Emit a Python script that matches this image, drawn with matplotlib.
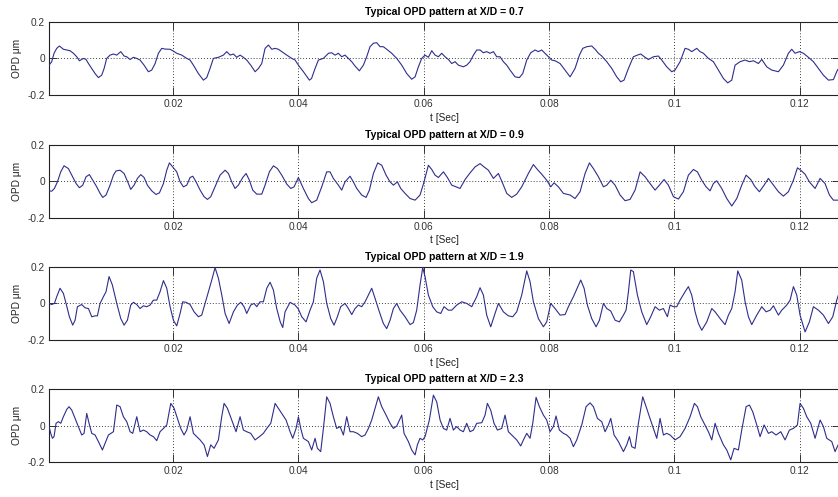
import numpy as np
import matplotlib
matplotlib.use("Agg")
import matplotlib.pyplot as plt

plt.rcParams['font.family'] = ['Liberation Sans', 'DejaVu Sans']

# X/D stations shown top to bottom
xd_values = [0.7, 0.9, 1.9, 2.3]

# time samples in milliseconds, OPD in micrometres
t_07 = [0.21, 0.63, 1.00, 1.43, 1.86, 2.49, 3.03, 3.56, 4.09, 4.62, 5.05, 5.69, 6.11, 6.49, 7.02,
        7.55, 8.08, 8.61, 8.99, 9.41, 9.94, 10.48, 11.01, 11.65, 12.18, 12.60, 13.13, 13.67, 14.20, 14.73,
        15.37, 16.06, 16.59, 17.13, 17.66, 18.19, 18.72, 19.52, 20.05, 20.58, 21.38, 22.18, 22.71, 23.24, 24.04,
        24.84, 25.37, 25.90, 26.43, 27.23, 28.03, 28.56, 29.10, 29.63, 30.16, 30.69, 31.22, 31.75, 32.39, 33.09,
        33.62, 34.15, 34.68, 35.21, 35.75, 36.28, 36.81, 37.34, 38.14, 38.94, 39.47,
        40.0, 40.8, 41.75, 42.1, 42.66, 43.19, 43.99, 44.8, 45.3, 45.85, 46.38, 46.91, 47.44, 47.98, 48.51,
        49.04, 49.73, 50.37, 50.9, 51.43, 51.97, 52.5, 53.03, 53.56, 54.09, 54.89, 55.69, 56.49, 57.29, 58.08,
        58.62, 59.15, 59.68, 60.21, 60.74, 61.28, 61.81, 62.34, 62.87, 63.4, 63.94, 64.47, 65.0, 65.53, 66.33,
        66.86, 67.39, 67.93, 68.46, 68.99, 69.52, 70.05, 70.59, 71.12, 71.65, 72.18, 72.71, 73.25, 73.78, 74.58,
        75.27, 75.8, 76.44, 77.08, 77.77, 78.3, 78.83, 79.36, 79.9, 80.43, 80.96, 81.76, 82.56,
        83.36, 84.15, 84.85, 85.38, 86.02, 86.81, 87.35, 87.88, 88.41, 89.21, 90.01, 90.8, 91.44, 91.97, 92.67,
        93.46, 94.1, 94.63, 95.33, 95.86, 96.66, 97.45, 97.99, 98.78, 99.58, 100.11, 100.91, 101.71, 102.24, 102.77,
        103.57, 104.1, 104.64, 105.43, 106.23, 107.03, 107.83, 108.52, 109.16, 109.69, 110.49, 111.29, 111.98,
        112.62, 113.41, 113.95, 114.74, 115.54, 116.61, 117.4, 118.2, 118.73, 119.27, 119.96, 120.6, 121.39,
        122.19, 122.99, 123.79, 124.59, 125.38, 126.02, 126.5]
opd_07 = [-0.037, -0.018, 0.028, 0.055, 0.068, 0.050, 0.046, 0.042, 0.028, 0.009, -0.013, 0.0, -0.006, -0.028, -0.055,
          -0.083, -0.105, -0.092, -0.055, 0.0, 0.018, 0.024, 0.018, 0.037, 0.013, 0.009, -0.006, 0.006, 0.0, -0.009,
          -0.037, -0.073, -0.064, -0.028, 0.028, 0.055, 0.051, 0.050, 0.040, 0.028, 0.018, 0.0, -0.009, -0.037, -0.083,
          -0.119, -0.105, -0.055, 0.0, 0.006, 0.018, 0.037, 0.018, 0.024, 0.006, 0.018, 0.006, -0.009, -0.037, -0.073,
          -0.055, -0.028, 0.055, 0.073, 0.050, 0.055, 0.050, 0.037, 0.018, 0.0, -0.009,
          -0.037, -0.073, -0.119, -0.110, -0.055, -0.009, 0.0, 0.028, 0.031, 0.018, 0.028, 0.009, 0.018, 0.0, -0.018,
          -0.042, -0.068, -0.037, 0.009, 0.064, 0.083, 0.086, 0.064, 0.064, 0.050, 0.028, 0.0, -0.037, -0.083, -0.114,
          -0.101, -0.046, 0.0, 0.018, 0.006, 0.042, 0.018, 0.009, 0.028, 0.009, -0.006, -0.028, -0.018, -0.037, -0.046,
          -0.037, -0.018, 0.018, 0.046, 0.046, 0.031, 0.037, 0.028, 0.037, 0.009, 0.009, -0.018, -0.037, -0.064, -0.101,
          -0.105, -0.083, -0.009, 0.031, 0.046, 0.037, 0.046, 0.028, 0.009, -0.009, -0.013, -0.028, -0.064,
          -0.101, -0.055, 0.018, 0.055, 0.064, 0.068, 0.050, 0.028, 0.013, -0.018, -0.055, -0.101, -0.128, -0.119, -0.055,
          0.009, 0.018, 0.024, 0.006, -0.006, 0.009, 0.013, -0.009, -0.046, -0.073, -0.064, -0.018, 0.055, 0.050, 0.037,
          0.055, 0.037, 0.028, 0.0, -0.018, -0.064, -0.110, -0.134, -0.119, -0.037, -0.018, -0.009, -0.018,
          -0.013, -0.028, -0.006, -0.046, -0.064, -0.073, -0.037, 0.028, 0.050, 0.028, 0.037, 0.028, 0.006,
          -0.018, -0.055, -0.092, -0.119, -0.116, -0.064, -0.045]

t_09 = [0.21, 0.63, 1.06, 1.54, 2.07, 2.60, 3.29, 3.83, 4.52, 5.05, 5.58, 6.11, 6.64, 7.18, 7.81,
        8.35, 8.77, 9.30, 9.94, 10.48, 10.90, 11.54, 12.18, 12.87, 13.24, 13.77, 14.31, 14.84, 15.37, 15.90,
        16.59, 17.28, 17.82, 18.46, 18.99, 19.41, 19.94, 20.58, 21.12, 21.65, 22.18, 22.71, 23.14, 23.67, 24.31,
        24.95, 25.48, 26.01, 26.70, 27.50, 28.30, 28.83, 29.36, 29.89, 30.42, 31.12, 31.65, 32.18, 32.71, 33.35,
        34.15, 34.68, 35.37, 36.01, 36.65, 37.34, 38.14, 38.78, 39.31,
        40.0, 40.79, 41.59, 42.12, 42.92, 43.72, 44.52, 45.05, 45.58, 46.38, 46.91, 47.44, 48.24, 48.77, 49.31,
        50.10, 50.80, 51.33, 51.97, 52.66, 53.30, 53.99, 54.63, 55.16, 55.80, 56.33, 57.02, 57.82, 58.62, 59.41,
        60.05, 60.74, 61.28, 61.81, 62.34, 63.14, 63.78, 64.47, 65.16, 65.80, 66.6, 67.39, 68.19, 68.99, 69.63,
        70.32, 71.12, 71.92, 72.61, 73.25, 74.04, 74.84, 75.64, 76.70, 77.5, 78.14, 78.83, 79.63, 80.27, 80.80,
        81.49, 82.29,
        83.36, 84.15, 84.95, 85.75, 86.44, 87.08, 87.88, 88.68, 89.21, 89.85, 90.54, 91.34, 92.13, 92.93, 93.73,
        94.53, 95.33, 96.12, 96.92, 97.61, 98.36, 99.05, 99.85, 100.65, 101.44, 102.24, 103.04, 103.68, 104.37, 105.06,
        105.70, 106.23, 106.76, 107.56, 108.36, 109.16, 109.96, 110.75, 111.45, 112.19, 112.88, 113.57, 114.32,
        115.01, 115.81, 116.61, 117.40, 118.20, 119.0, 119.64, 120.17, 120.86, 121.55, 122.46, 123.26, 124.05,
        124.75, 125.38, 126.13, 126.5]
opd_09 = [-0.053, -0.055, -0.040, -0.004, 0.051, 0.084, 0.069, 0.033, -0.013, -0.036, -0.022, 0.024, 0.036, 0.005, -0.031,
          -0.067, -0.089, -0.076, -0.022, 0.033, 0.056, 0.060, 0.042, -0.013, -0.045, -0.022, 0.015, 0.036, 0.020, -0.022,
          -0.053, -0.073, -0.064, -0.013, 0.060, 0.100, 0.078, 0.051, -0.004, -0.031, -0.022, 0.020, 0.027, -0.004, -0.049,
          -0.085, -0.100, -0.085, -0.031, 0.033, 0.060, 0.042, -0.004, -0.040, -0.022, 0.020, 0.042, 0.005, -0.049, -0.071,
          -0.071, -0.022, 0.051, 0.084, 0.069, 0.033, -0.016, -0.040, -0.031,
          0.020, -0.040, -0.095, -0.118, -0.104, -0.031, 0.051, 0.051, 0.015, -0.022, -0.049, -0.004, 0.027, -0.004, -0.040,
          -0.076, -0.089, -0.049, 0.042, 0.100, 0.087, 0.033, -0.004, -0.022, -0.004, -0.040, -0.067, -0.095, -0.104, -0.076,
          -0.004, 0.087, 0.064, 0.033, 0.020, 0.051, 0.020, -0.022, -0.031, -0.040, 0.009, 0.045, 0.078, 0.096, 0.078,
          0.060, 0.015, 0.042, -0.013, -0.067, -0.089, -0.071, -0.031, 0.042, 0.091, 0.064, 0.038, 0.005, -0.031, -0.009,
          -0.031, -0.067,
          -0.076, -0.095, -0.058, 0.042, 0.100, 0.069, 0.024, -0.031, -0.022, 0.005, -0.022, -0.076, -0.107, -0.100, -0.049,
          0.051, 0.024, -0.013, -0.049, -0.022, 0.009, -0.022, -0.085, -0.098, -0.058, 0.033, 0.064, 0.051, 0.005, -0.031,
          -0.053, -0.013, 0.002, -0.040, -0.095, -0.136, -0.095, -0.022, 0.033, 0.009, -0.031, -0.058, -0.022,
          0.015, -0.022, -0.058, -0.082, -0.058, 0.005, 0.073, 0.060, 0.038, -0.004, -0.040, 0.015, -0.013,
          -0.076, -0.104, -0.104, -0.095]

t_19 = [0.21, 0.63, 1.06, 1.43, 1.96, 2.49, 2.92, 3.45, 3.98, 4.36, 4.73, 5.42, 5.95, 6.49, 7.02,
        7.55, 7.92, 8.35, 8.88, 9.30, 9.78, 10.31, 11.01, 11.65, 12.18, 12.71, 13.24, 13.67, 14.20, 14.73,
        15.26, 15.79, 16.33, 16.86, 17.39, 17.92, 18.46, 18.99, 19.52, 20.05, 20.58, 21.12, 21.54, 22.07, 22.71,
        23.35, 24.04, 24.57, 25.11, 25.64, 26.17, 26.70, 27.23, 27.77, 28.30, 28.94, 29.63, 30.27, 30.80, 31.33,
        31.75, 32.39, 32.93, 33.35, 33.88, 34.41, 34.95, 35.48, 36.01, 36.54, 37.1, 37.5,
        37.87, 38.67, 39.46, 40.0, 40.53, 41.22, 41.86, 42.39, 42.92, 43.45, 43.99, 44.52, 45.16, 45.69, 46.22,
        46.75, 47.44, 47.98, 48.51, 49.04, 49.57, 50.10, 50.64, 51.17, 51.70, 52.23, 52.92, 53.56, 54.09, 54.63,
        55.16, 55.69, 56.22, 57.02, 57.82, 58.35, 58.88, 59.41, 59.84, 60.21, 60.74, 61.44, 62.07, 62.71, 63.24,
        63.94, 64.47, 65.27, 66.06, 66.86, 67.66, 68.46, 68.99, 69.52, 70.05, 70.69, 71.38, 71.92, 72.71, 73.51,
        74.20, 74.84, 75.64, 76.44, 76.97, 77.50, 78.30, 79.10, 79.63, 80.27, 80.96, 81.76,
        82.56, 83.09, 83.89, 85.06, 85.59, 86.12, 86.81, 87.51, 88.04, 88.68, 89.21, 89.85, 90.54, 91.23, 91.87,
        92.29, 92.67, 93.04, 93.46, 94.10, 94.79, 95.59, 96.23, 96.92, 97.61, 98.25, 98.89, 99.32, 99.85, 100.38,
        100.91, 101.71, 102.24, 102.77, 103.31, 103.84, 104.37, 105.17, 105.97, 106.50, 107.30, 108.09, 108.63,
        109.16, 109.69, 110.12, 110.75, 111.29, 111.82, 112.35, 113.15, 113.95, 114.64, 115.28, 115.81, 116.61,
        117.14, 117.94, 118.47, 119.0, 119.53, 120.06, 120.86, 121.55, 122.19, 122.99, 123.79, 124.59, 125.28,
        125.92, 126.18, 126.5]
opd_19 = [0.0, -0.006, 0.0, 0.037, 0.083, 0.055, 0.0, -0.073, -0.119, -0.092, -0.018, -0.006, -0.024, -0.028, -0.073,
          -0.068, -0.068, 0.0, 0.037, 0.064, 0.147, 0.101, 0.0, -0.083, -0.119, -0.092, -0.009, 0.006, -0.006, -0.028,
          -0.013, -0.018, -0.009, 0.018, 0.018, 0.064, 0.125, 0.083, -0.018, -0.092, -0.123, -0.055, 0.009, 0.006, -0.006,
          -0.046, -0.073, -0.064, 0.0, 0.064, 0.128, 0.196, 0.138, 0.046, -0.055, -0.110, -0.046, -0.009, 0.006, -0.018,
          -0.055, -0.009, 0.0, -0.018, 0.009, 0.009, 0.083, 0.116, 0.073, -0.028, -0.101, -0.132,
          -0.046, 0.006, -0.009, -0.031, -0.073, -0.101, -0.037, 0.009, 0.138, 0.183, 0.119, 0.0, -0.083, -0.119, -0.073,
          -0.018, 0.0, -0.028, -0.061, -0.028, -0.009, -0.018, 0.009, 0.046, 0.083, 0.028, -0.046, -0.110, -0.138, -0.092,
          -0.028, 0.0, -0.037, -0.073, -0.116, -0.105, -0.037, 0.101, 0.196, 0.147, 0.046, -0.018, -0.046, -0.055, -0.018,
          -0.037, -0.037, -0.009, 0.009, 0.0, -0.018, 0.037, 0.086, 0.046, -0.064, -0.128, -0.055, 0.0, -0.046, -0.068,
          -0.073, -0.046, 0.046, 0.178, 0.119, 0.009, -0.083, -0.128, -0.101, 0.0, -0.028, -0.064,
          -0.061, -0.018, 0.037, 0.128, 0.083, -0.009, -0.083, -0.128, -0.092, 0.0, -0.028, -0.042, -0.092, -0.101, -0.064,
          -0.037, 0.064, 0.183, 0.174, 0.046, -0.046, -0.116, -0.073, -0.018, -0.037, -0.028, -0.073, -0.009, -0.018, -0.018,
          0.018, 0.064, 0.092, 0.046, -0.046, -0.110, -0.147, -0.101, -0.028, -0.046, -0.083, -0.116, -0.064,
          -0.028, 0.064, 0.178, 0.128, 0.009, -0.073, -0.116, -0.064, -0.018, -0.046, -0.037, -0.013, -0.064,
          -0.037, -0.009, 0.018, 0.092, 0.046, -0.064, -0.156, -0.101, -0.018, -0.037, -0.064, -0.110, -0.073,
          0.018, 0.046, 0.060]

t_23 = [0.21, 0.47, 0.74, 1.00, 1.32, 1.70, 2.07, 2.49, 3.03, 3.40, 3.83, 4.36, 4.89, 5.42, 5.79,
        6.22, 6.59, 7.02, 7.55, 8.08, 8.72, 9.15, 9.68, 10.48, 11.01, 11.54, 12.07, 12.60, 13.14, 13.56,
        14.20, 14.73, 15.26, 15.79, 16.33, 16.86, 17.39, 17.92, 18.46, 18.99, 19.63, 20.16, 20.69, 21.22, 21.75,
        22.18, 22.71, 23.24, 23.78, 24.31, 24.95, 25.48, 26.01, 26.54, 27.23, 27.76, 28.14, 28.67, 29.36, 30.05,
        30.69, 31.22, 31.75, 32.39, 33.08, 33.78, 34.41, 34.95, 35.59, 36.28, 36.81, 37.34, 38.03, 38.67, 39.10,
        39.63, 40.0,
        40.37, 40.79, 41.59, 42.12, 42.66, 43.03, 43.56, 43.99, 44.52, 45.05, 45.58, 46.11, 46.65, 47.18, 47.71,
        48.24, 48.77, 49.41, 50.10, 50.64, 51.17, 51.70, 52.76, 53.30, 53.99, 54.63, 55.16, 55.69, 56.49, 56.86,
        57.55, 58.08, 58.62, 58.99, 59.41, 59.84, 60.21, 60.90, 61.54, 62.07, 62.61, 63.14, 63.67, 64.20, 64.73,
        65.27, 65.80, 66.33, 66.86, 67.39, 67.93, 68.46, 69.26, 69.79, 70.16, 70.69, 71.22, 71.76, 72.45, 72.98,
        73.51, 74.31, 74.84, 75.48, 75.91, 76.44, 76.97, 77.40, 77.93, 78.46, 79.10, 79.63, 80.16, 80.69, 81.12,
        81.65, 82.29, 82.82,
        83.36, 83.89, 84.42, 85.22, 85.91, 86.55, 87.08, 87.72, 88.41, 88.94, 89.47, 89.85, 90.38, 91.07, 91.87,
        92.40, 92.83, 93.20, 93.73, 94.26, 94.95, 95.49, 96.02, 96.66, 97.19, 97.72, 98.25, 98.78, 99.32, 100.11,
        100.91, 101.71, 102.51, 103.20, 103.68, 104.21, 104.74, 105.43, 105.97, 106.50, 107.03, 107.83, 108.36,
        109.0, 109.53, 110.22, 110.75, 111.45, 111.98, 112.51, 113.15, 113.68, 114.32, 115.01, 115.54, 116.23,
        116.98, 117.67, 118.36, 119.0, 119.64, 120.06, 120.60, 121.13, 121.77, 122.46, 123.26, 123.79, 124.32,
        125.12, 125.65, 126.13, 126.5]
opd_23 = [-0.005, -0.042, -0.069, -0.060, 0.013, 0.022, 0.013, 0.049, 0.089, 0.104, 0.085, 0.040, -0.005, -0.051, -0.042,
          0.067, 0.013, -0.042, -0.051, -0.087, -0.133, -0.096, -0.051, -0.033, 0.113, 0.104, 0.049, 0.022, -0.033, -0.042,
          0.049, -0.033, -0.024, -0.033, -0.051, -0.060, -0.082, -0.033, -0.015, 0.004, 0.122, 0.095, 0.040, -0.015, -0.051,
          -0.024, 0.049, -0.042, -0.060, -0.078, -0.105, -0.169, -0.105, -0.124, -0.078, 0.049, 0.122, 0.095, 0.031, -0.033,
          0.049, -0.024, -0.033, -0.042, -0.078, -0.060, -0.042, -0.015, 0.013, 0.122, 0.095, 0.067, 0.031, -0.033, -0.069,
          -0.015, 0.049,
          -0.015, -0.069, -0.087, -0.133, -0.069, -0.124, -0.142, -0.015, 0.158, 0.122, 0.049, -0.015, -0.005, -0.051, 0.049,
          -0.033, -0.033, -0.042, -0.060, -0.051, -0.015, 0.031, 0.158, 0.104, 0.058, 0.013, -0.015, -0.002, 0.058, -0.042,
          -0.087, -0.133, -0.160, -0.105, -0.069, -0.078, -0.060, 0.031, 0.167, 0.131, 0.031, -0.015, -0.024, 0.040, -0.024,
          -0.005, -0.024, -0.033, 0.013, -0.033, -0.024, 0.013, 0.016, 0.058, 0.122, 0.085, 0.013, -0.024, -0.015, 0.058,
          -0.033, -0.060, -0.078, -0.111, -0.078, -0.042, -0.069, 0.013, 0.155, 0.104, 0.058, 0.031, -0.033, -0.005, 0.053,
          -0.024, -0.042, -0.051,
          -0.069, -0.115, -0.078, 0.004, 0.104, 0.125, 0.104, 0.040, 0.022, -0.033, 0.004, 0.040, -0.051, -0.087, -0.142,
          -0.105, -0.060, -0.115, -0.124, 0.013, 0.158, 0.104, 0.049, -0.015, -0.069, 0.040, -0.051, -0.042, -0.051, -0.078,
          -0.060, -0.015, 0.049, 0.122, 0.104, 0.049, 0.013, -0.033, -0.078, 0.013, -0.042, -0.105, -0.133,
          -0.187, -0.124, -0.133, -0.024, 0.104, 0.113, 0.076, 0.004, -0.060, 0.004, -0.042, -0.033, -0.051,
          -0.033, -0.078, -0.024, -0.015, 0.004, 0.122, 0.095, 0.049, 0.013, -0.069, 0.031, -0.005, -0.069,
          -0.087, -0.142, -0.105, -0.080]

series = [(t_07, opd_07), (t_09, opd_09), (t_19, opd_19), (t_23, opd_23)]

xticks = [0.02, 0.04, 0.06, 0.08, 0.1, 0.12]
xtick_labels = ['0.02', '0.04', '0.06', '0.08', '0.1', '0.12']
yticks = [-0.2, 0, 0.2]
ytick_labels = ['-0.2', '0', '0.2']

fig = plt.figure(figsize=(8.38, 4.97), dpi=100, facecolor='white')

# panel bottoms in figure fractions; the right edge runs just past the frame
bottoms = [0.809, 0.562, 0.316, 0.070]
left, width, height = 0.0585, 0.944, 0.147

for (t_ms, opd), xd, b in zip(series, xd_values, bottoms):
    ax = fig.add_axes([left, b, width, height])
    ax.plot(np.array(t_ms) / 1000.0, opd, color='#2e2e8c', linewidth=0.8, zorder=3)
    ax.set_xlim(0.0002, 0.12645)
    ax.set_ylim(-0.2, 0.2)
    ax.set_xticks(xticks)
    ax.set_xticklabels(xtick_labels)
    ax.set_yticks(yticks)
    ax.set_yticklabels(ytick_labels)
    ax.tick_params(direction='in', length=5.8, width=0.7, top=True, right=True,
                   labelsize=7.3, pad=3, colors='#333333')
    ax.grid(True, linestyle=(0, (1, 2.5)), color='black', linewidth=0.6)
    for sp in ax.spines.values():
        sp.set_linewidth(0.8)
        sp.set_color('#222222')
    ax.set_title(f'Typical OPD pattern at X/D = {xd}', fontsize=7.6, fontweight='bold', pad=5)
    ax.set_xlabel('t [Sec]', fontsize=7.3, labelpad=2.5, color='#222222')
    ax.set_ylabel('OPD μm', fontsize=7.3, labelpad=4, color='#222222')

fig.savefig('out.png', dpi=100)
